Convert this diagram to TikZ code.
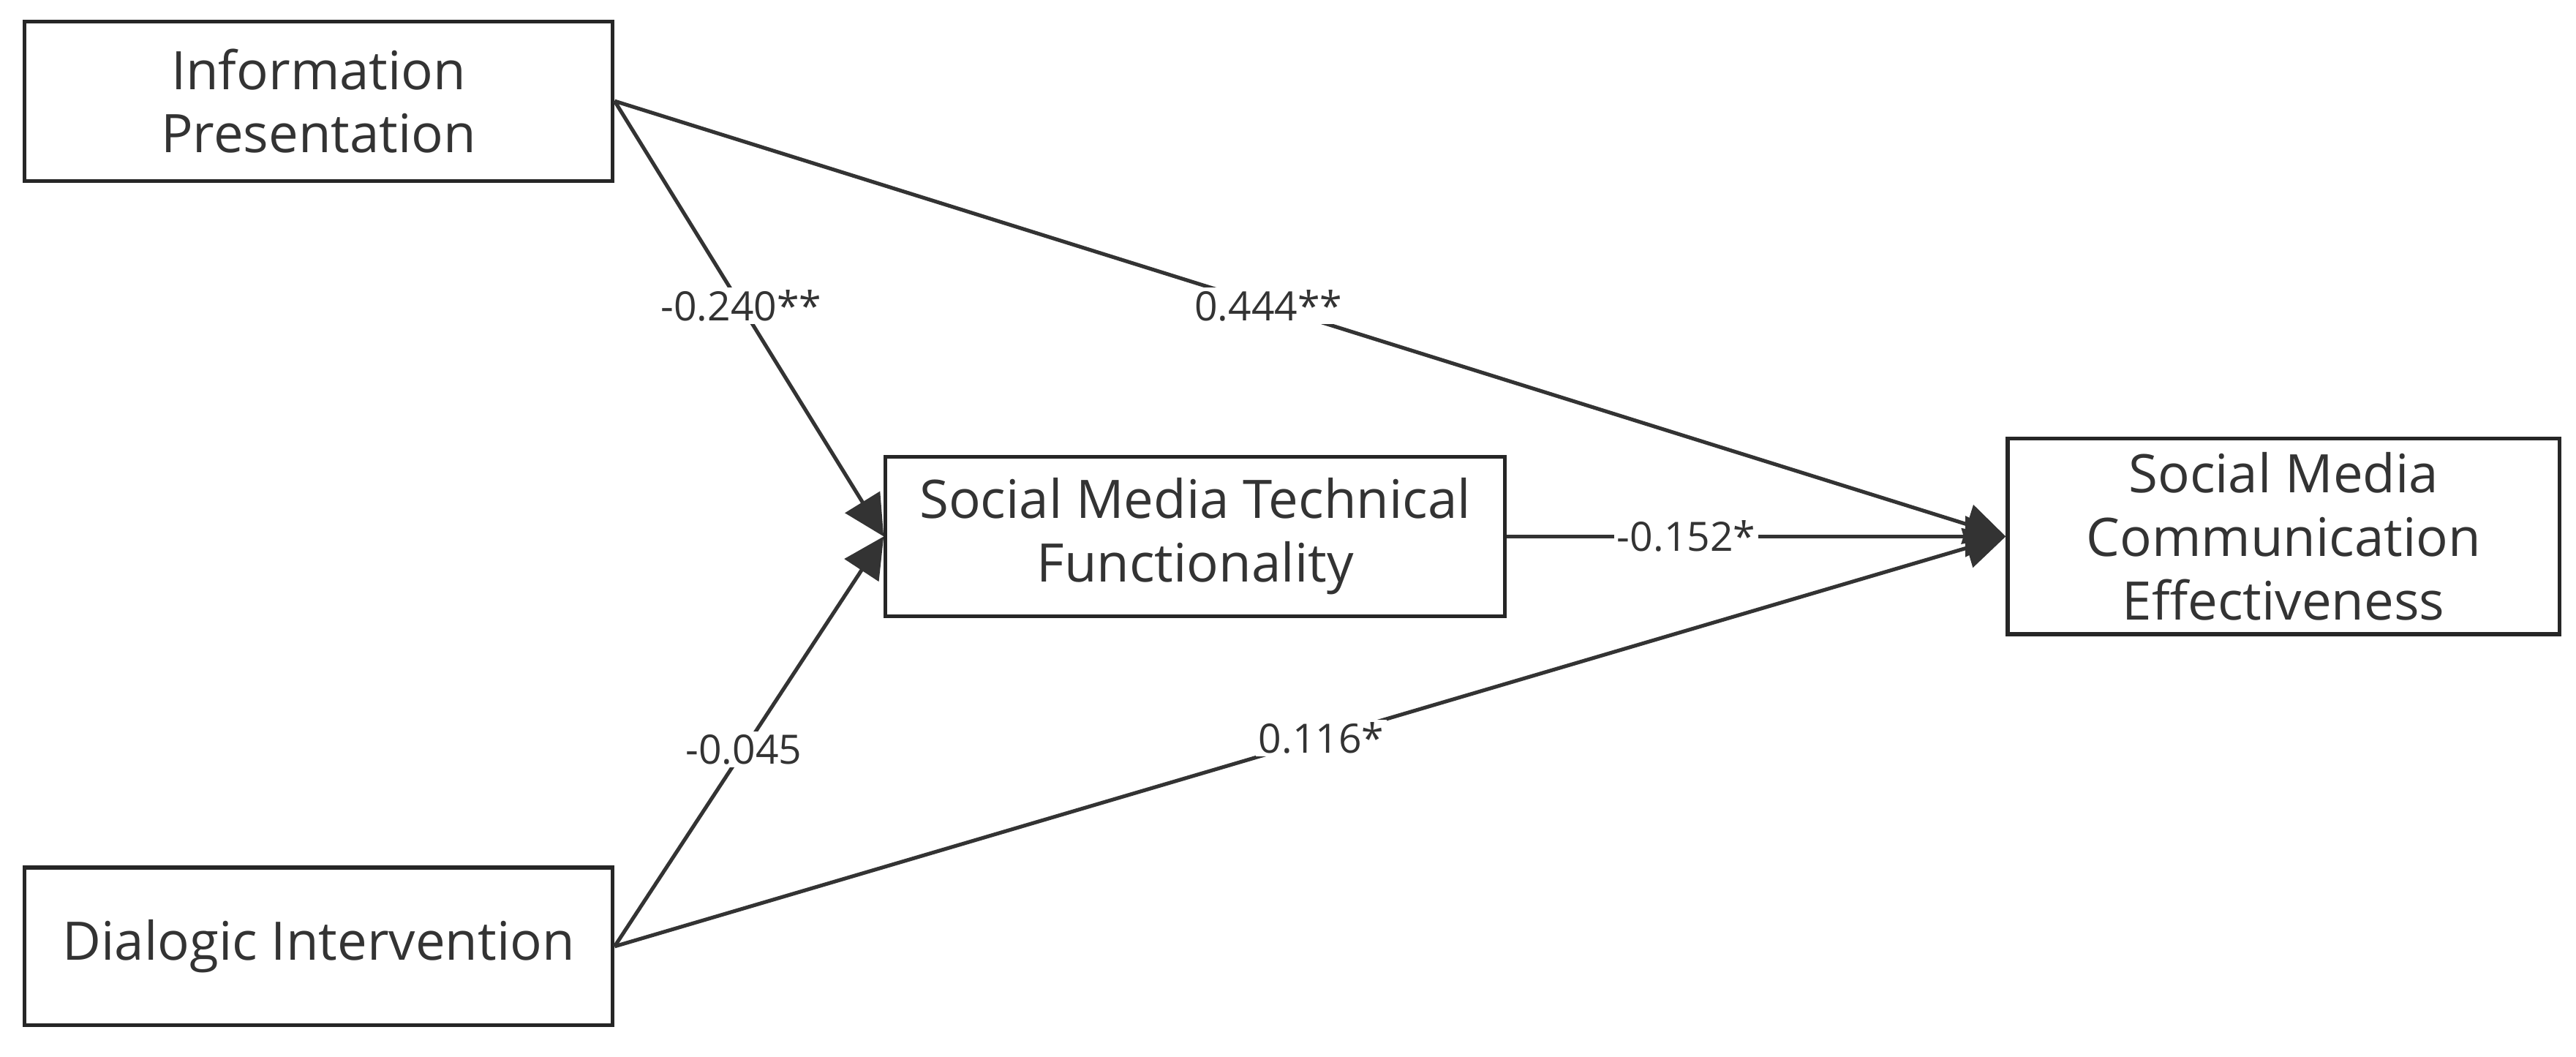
\documentclass[tikz,border=0pt]{standalone}
\usepackage{fontspec}
\setmainfont{Open Sans}
\usetikzlibrary{arrows.meta}
\begin{document}
\begin{tikzpicture}[x=0.02cm,y=-0.02cm,
  box/.style={draw=black!85,line width=1.3pt,align=center,font=\fontsize{18.4}{22}\selectfont,text=black!80,inner sep=0pt},
  conn/.style={draw=black!80,line width=1.3pt,-{Triangle[length=14pt,width=14pt]}},
  lab/.style={fill=white,inner sep=1pt,font=\fontsize{14}{16}\selectfont,text=black!80}]
\useasboundingbox (0,0) rectangle (1568,643);
\node[box,minimum width=7.16cm,minimum height=1.94cm] (ip) at (194,61.5) {Information\\Presentation};
\node[box,minimum width=7.16cm,minimum height=1.92cm] (di) at (194,576) {Dialogic Intervention};
\node[box,minimum width=7.54cm,minimum height=1.94cm] (tf) at (727.5,326.5) {Social Media Technical\\Functionality};
\node[box,minimum width=6.72cm,minimum height=2.38cm] (ce) at (1390,326.5) {Social Media\\Communication\\Effectiveness};
\draw[conn] (ip.east) -- (tf.west) node[lab,pos=0.47] {-0.240**};
\draw[conn] (ip.east) -- (ce.west) node[lab,pos=0.47] {0.444**};
\draw[conn] (di.east) -- (tf.west) node[lab,pos=0.48] {-0.045};
\draw[conn] (di.east) -- (ce.west) node[lab,pos=0.508] {0.116*};
\draw[conn] (tf.east) -- (ce.west) node[lab,pos=0.36] {-0.152*};
\end{tikzpicture}
\end{document}
